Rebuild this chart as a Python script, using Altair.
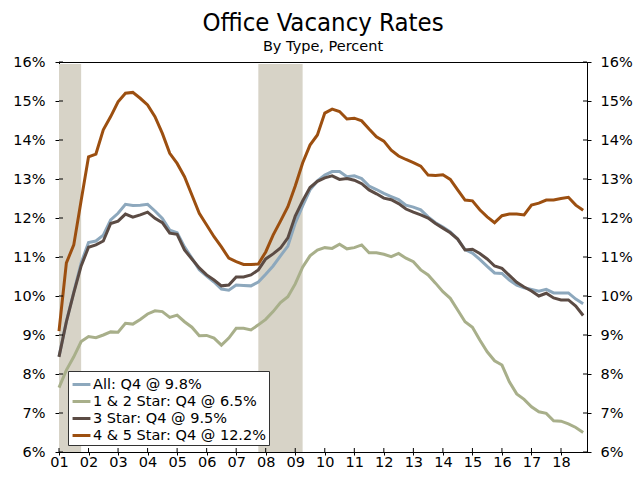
import altair as alt
import pandas as pd

# ---- data (quarterly, 2001 Q1 .. 2018 Q4) ----
years = list(range(2001, 2019))
series_names = [
    "All: Q4 @ 9.8%",
    "1 & 2 Star: Q4 @ 6.5%",
    "3 Star: Q4 @ 9.5%",
    "4 & 5 Star: Q4 @ 12.2%",
]
series_colors = ["#8DA8BD", "#A8AF8A", "#5B4B44", "#9C4F10"]

all_types = [8.45, 9.35, 10.1, 10.85, 11.37, 11.41, 11.56, 11.95, 12.12, 12.35,
             12.32, 12.33, 12.35, 12.18, 11.99, 11.69, 11.62, 11.26, 10.97, 10.67,
             10.51, 10.36, 10.18, 10.15, 10.28, 10.27, 10.26, 10.36, 10.56, 10.77,
             11.03, 11.28, 11.87, 12.31, 12.72, 12.95, 13.10, 13.19, 13.19, 13.06,
             13.08, 13.01, 12.82, 12.73, 12.63, 12.55, 12.47, 12.33, 12.28, 12.21,
             12.03, 11.88, 11.77, 11.64, 11.46, 11.19, 11.10, 10.94, 10.76, 10.59,
             10.58, 10.41, 10.28, 10.21, 10.17, 10.12, 10.17, 10.08, 10.08, 10.08,
             9.92, 9.8]
star_1_2 = [7.65, 8.10, 8.44, 8.83, 8.96, 8.93, 9.00, 9.08, 9.07, 9.30,
            9.28, 9.40, 9.54, 9.62, 9.60, 9.45, 9.51, 9.34, 9.20, 8.98,
            8.99, 8.92, 8.74, 8.92, 9.17, 9.17, 9.13, 9.26, 9.40, 9.60,
            9.83, 9.98, 10.31, 10.74, 11.03, 11.18, 11.24, 11.22, 11.33, 11.21,
            11.24, 11.31, 11.11, 11.11, 11.07, 11.01, 11.09, 10.97, 10.88, 10.67,
            10.54, 10.33, 10.11, 9.94, 9.64, 9.34, 9.20, 8.87, 8.57, 8.34,
            8.23, 7.80, 7.49, 7.35, 7.16, 7.03, 6.99, 6.80, 6.79, 6.72,
            6.63, 6.5]
star_3 = [8.44, 9.34, 10.08, 10.77, 11.25, 11.31, 11.41, 11.86, 11.92, 12.10,
          12.02, 12.08, 12.15, 11.99, 11.88, 11.61, 11.58, 11.18, 10.95, 10.72,
          10.54, 10.41, 10.26, 10.28, 10.49, 10.49, 10.54, 10.67, 10.95, 11.08,
          11.23, 11.49, 12.05, 12.44, 12.78, 12.94, 13.03, 13.08, 12.99, 13.01,
          12.97, 12.88, 12.72, 12.62, 12.51, 12.47, 12.37, 12.23, 12.15, 12.08,
          12.0, 11.86, 11.74, 11.62, 11.46, 11.18, 11.20, 11.09, 10.95, 10.77,
          10.71, 10.53, 10.35, 10.23, 10.13, 10.0, 10.07, 9.95, 9.90, 9.90,
          9.74, 9.5]
star_4_5 = [9.1, 10.85, 11.31, 12.45, 13.57, 13.64, 14.26, 14.60, 14.98, 15.20,
            15.22, 15.07, 14.90, 14.60, 14.17, 13.66, 13.40, 13.06, 12.59, 12.12,
            11.82, 11.52, 11.26, 10.97, 10.88, 10.81, 10.81, 10.82, 11.13, 11.56,
            11.92, 12.29, 12.82, 13.41, 13.87, 14.13, 14.69, 14.79, 14.73, 14.54,
            14.56, 14.49, 14.28, 14.08, 13.97, 13.74, 13.59, 13.50, 13.42, 13.33,
            13.10, 13.09, 13.11, 12.99, 12.72, 12.46, 12.44, 12.21, 12.03, 11.88,
            12.06, 12.10, 12.10, 12.08, 12.33, 12.38, 12.46, 12.46, 12.50, 12.53,
            12.33, 12.2]

recession_start = [2001.0, 2007.75]
recession_end = [2001.75, 2009.25]

y_ticks = list(range(6, 17))

# ---- tables ----
quarters = [y + q / 4 for y in years for q in range(4)]
rows = []
for name, vals in zip(series_names, [all_types, star_1_2, star_3, star_4_5]):
    for t, v in zip(quarters, vals):
        rows.append({"t": t, "v": v, "series": name})
df = pd.DataFrame(rows)
rec_df = pd.DataFrame({"start": recession_start, "end": recession_end})
yt_df = pd.DataFrame({"v": y_ticks})
xt_df = pd.DataFrame({"t": years})

W, H = 528, 390
FONT = "DejaVu Sans"
LBL = 14.5

xs = alt.Scale(domain=[2001, 2018.88], nice=False, zero=False)
ys = alt.Scale(domain=[6, 16], nice=False, zero=False)

x_axis = alt.Axis(values=years, labelExpr="format(datum.value % 100, '02d')",
                  title=None, grid=False, tickSize=3, labelPadding=0,
                  labelFont=FONT, labelFontSize=LBL, labelColor="black",
                  tickColor="black", domainColor="black", labelFlush=False)
y_left = alt.Axis(values=y_ticks, labelExpr="datum.value + '%'", title=None,
                  grid=False, tickSize=4, labelPadding=10, labelFont=FONT,
                  labelFontSize=LBL, labelColor="black", tickColor="black",
                  domainColor="black")
y_right = alt.Axis(values=y_ticks, labelExpr="datum.value + '%'", title=None,
                   grid=False, tickSize=4, labelPadding=9, labelFont=FONT,
                   labelFontSize=LBL, labelColor="black", tickColor="black",
                   domainColor="black", orient="right")

shade = alt.Chart(rec_df).mark_rect(color="#D7D3C7").encode(
    x=alt.X("start:Q", scale=xs, axis=x_axis),
    x2="end:Q",
    y=alt.value(2),
    y2=alt.value(H),
)

lines = alt.Chart(df).mark_line(strokeWidth=3).encode(
    x=alt.X("t:Q", scale=xs, axis=x_axis),
    y=alt.Y("v:Q", scale=ys, axis=y_left),
    color=alt.Color(
        "series:N",
        scale=alt.Scale(domain=series_names, range=series_colors),
        legend=alt.Legend(
            title=None, orient="none", legendX=9, legendY=309,
            symbolType="stroke", symbolSize=320, symbolStrokeWidth=3,
            labelFont=FONT, labelFontSize=LBL, labelColor="black",
            labelOffset=1, rowPadding=0, padding=3, labelLimit=0,
            strokeColor="#333333", fillColor="white",
        ),
    ),
    detail="series:N",
)

left_inner = alt.Chart(yt_df).mark_rule(color="black").encode(
    y=alt.Y("v:Q", scale=ys, axis=None), x=alt.value(0), x2=alt.value(4)
)
right_inner = alt.Chart(yt_df).mark_rule(color="black").encode(
    y=alt.Y("v:Q", scale=ys, axis=y_right), x=alt.value(W - 4), x2=alt.value(W)
)
bottom_inner = alt.Chart(xt_df).mark_rule(color="black").encode(
    x=alt.X("t:Q", scale=xs, axis=x_axis), y=alt.value(H - 4), y2=alt.value(H)
)

chart = (
    alt.layer(shade, lines, left_inner, right_inner, bottom_inner)
    .resolve_scale(y="independent")
    .properties(
        width=W,
        height=H,
        title=alt.TitleParams(
            "Office Vacancy Rates",
            subtitle="By Type, Percent",
            font="DejaVu Sans Condensed",
            fontSize=25.5,
            fontWeight="normal",
            color="black",
            subtitleFont=FONT,
            subtitleFontSize=14.5,
            subtitleColor="black",
            subtitlePadding=3,
            anchor="middle",
            offset=1,
        ),
        autosize=alt.AutoSizeParams(type="none"),
        padding={"left": 51, "top": 54, "right": 47, "bottom": 18},
    )
    .configure_view(stroke="black", strokeWidth=1)
)

chart.save("out.html", embed_options={"renderer": "svg", "actions": False})
